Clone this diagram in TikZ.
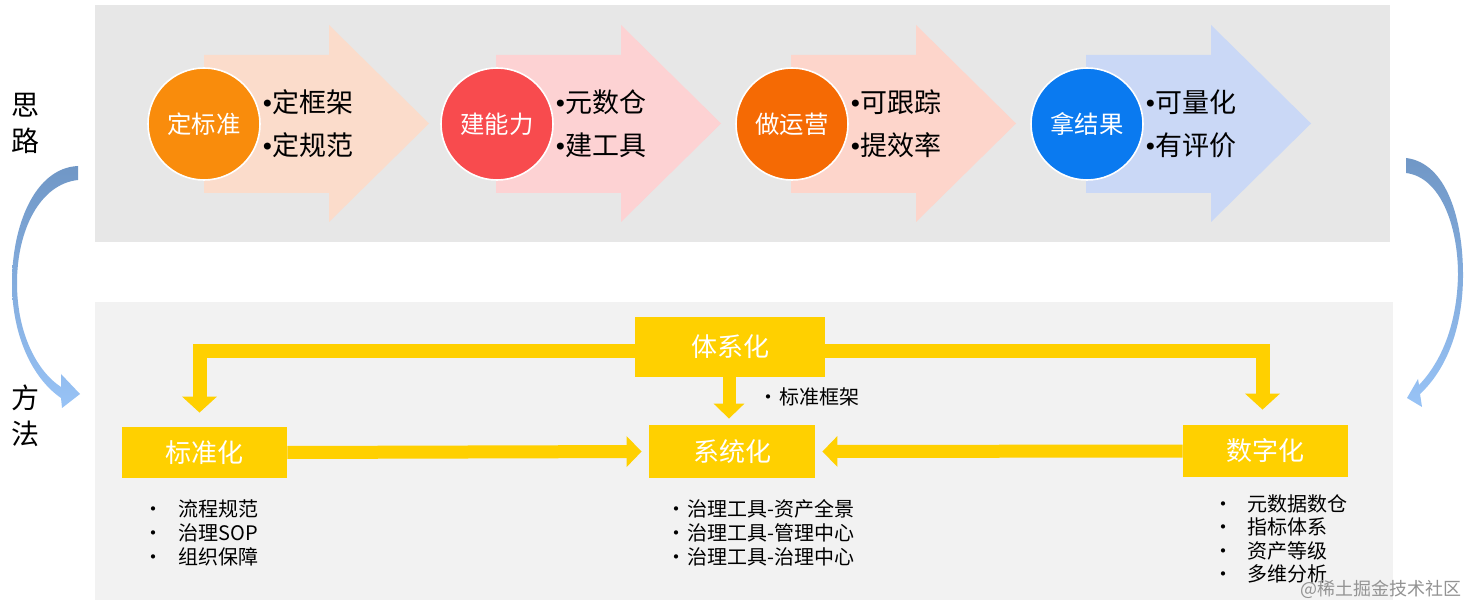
\documentclass[tikz,border=0pt]{standalone}
\usepackage{fontspec}
\setmainfont{Noto Sans CJK SC}
\newfontfamily\dejavu{DejaVu Sans}
\usetikzlibrary{arrows.meta,calc}
\definecolor{toppanel}{HTML}{E7E7E7}
\definecolor{botpanel}{HTML}{F2F2F2}
\definecolor{arrA}{HTML}{FBDCCB}
\definecolor{arrB}{HTML}{FDD2D3}
\definecolor{arrC}{HTML}{FDD5CB}
\definecolor{arrD}{HTML}{CAD8F6}
\definecolor{cirA}{HTML}{F98C0C}
\definecolor{cirB}{HTML}{F84B4E}
\definecolor{cirC}{HTML}{F56A04}
\definecolor{cirD}{HTML}{0A7AF0}
\definecolor{yel}{HTML}{FFD000}
\definecolor{blueTop}{HTML}{7097C6}
\definecolor{blueMid}{HTML}{C8DCF1}
\definecolor{blueBot}{HTML}{98C3F6}
\newcommand{\bigbul}{\makebox[5pt][c]{\dejavu\fontsize{12}{14}\selectfont •}}
\begin{document}
\begin{tikzpicture}[x=0.5pt,y=-0.5pt,
  circ/.style={circle, minimum size=56pt, inner sep=0pt, draw=white, line width=0.8pt, text=white, font=\fontsize{12.2}{14}\selectfont},
  bul/.style={anchor=west, inner sep=0pt, text=black, font=\fontsize{13.5}{16}\selectfont},
  ybox/.style={fill=yel, text=white, inner sep=0pt, font=\fontsize{13}{15}\selectfont},
  yarr/.style={draw=yel, line width=7pt, -{Triangle[length=8pt,width=17pt]}},
  yarrs/.style={draw=yel, line width=6.5pt, -{Triangle[length=7.5pt,width=15pt]}},
  li/.style={anchor=west, inner sep=0pt, text=black, font=\fontsize{10}{12}\selectfont},
  side/.style={inner sep=0pt, align=center, text=black, font=\fontsize{14}{18}\selectfont},
  wm/.style={anchor=west, inner sep=0pt, text=gray!85, font=\fontsize{9}{11}\selectfont}
]
\useasboundingbox (0,0) rectangle (1470,608);
\fill[white] (0,0) rectangle (1470,608);
% panels
\fill[toppanel] (95,5) rectangle (1390,242);
\fill[botpanel] (95,302) rectangle (1393,600);

% top block arrows
\foreach \x/\c in {204/arrA,496/arrB,791/arrC,1086/arrD}
  \fill[\c] (\x,55) -- (\x+125,55) -- (\x+125,25) -- (\x+225,123.5) -- (\x+125,222) -- (\x+125,193) -- (\x,193) -- cycle;

% circles
\node[circ, fill=cirA] (s1) at (204,124) {定标准};
\node[circ, fill=cirB] (s2) at (497,124) {建能力};
\node[circ, fill=cirC] (s3) at (792,124) {做运营};
\node[circ, fill=cirD] (s4) at (1087,124) {拿结果};

\node[bul] (s1a) at (262,102) {\bigbul{}定框架};
\node[bul] (s1b) at (262,145) {\bigbul{}定规范};
\node[bul] (s2a) at (555,102) {\bigbul{}元数仓};
\node[bul] (s2b) at (555,145) {\bigbul{}建工具};
\node[bul] (s3a) at (850,102) {\bigbul{}可跟踪};
\node[bul] (s3b) at (850,145) {\bigbul{}提效率};
\node[bul] (s4a) at (1145,102) {\bigbul{}可量化};
\node[bul] (s4b) at (1145,145) {\bigbul{}有评价};

% side labels
\node[side] (silu) at (25,123) {思\\路};
\node[side] (fangfa) at (25,416) {方\\法};

% curved arrows
\shade[top color=blueTop, middle color=blueMid, bottom color=blueBot]
  (78,166) .. controls (35,168) and (12,225) .. (12,283)
  .. controls (12,335) and (32,378) .. (61,398)
  -- (62,408) -- (80,394) -- (61,374) -- (61,387)
  .. controls (38,372) and (17,335) .. (17,283)
  .. controls (17,230) and (40,184) .. (78,180) -- cycle;
\shade[top color=blueTop, middle color=blueMid, bottom color=blueBot]
  (1406,158) .. controls (1447,163) and (1463,220) .. (1463,275)
  .. controls (1463,325) and (1448,368) .. (1420,394)
  -- (1422,407) -- (1407,398) -- (1418,379) -- (1419,385)
  .. controls (1441,362) and (1457,325) .. (1458,275)
  .. controls (1458,225) and (1440,177) .. (1406,173) -- cycle;

% bottom boxes
\node[ybox, minimum width=95pt, minimum height=30pt] (txh) at (730,347) {体系化};
\node[ybox, minimum width=82.5pt, minimum height=25.5pt] (bzh) at (204.5,452.5) {标准化};
\node[ybox, minimum width=83pt, minimum height=26.5pt] (xth) at (732,451.5) {系统化};
\node[ybox, minimum width=82.5pt, minimum height=26pt] (szh) at (1265.5,451) {数字化};

% yellow connectors
\draw[yarr, shorten >=7pt] ([yshift=-2pt]txh.west) -| ([xshift=-2.5pt]bzh.north);
\draw[yarr, shorten >=7.5pt] ([yshift=-2pt]txh.east) -| ([xshift=-1.5pt]szh.north);
\draw[yarrs, shorten >=3pt] ([xshift=-0.5pt]txh.south) -- ([xshift=-1.5pt]xth.north);
\draw[yarrs, shorten >=3.5pt] (bzh.east) -- (xth.west);
\draw[yarrs, shorten >=3.5pt] (szh.west) -- (xth.east);

% lists
\node[li] (bzkj) at (758,397) {\makebox[10.5pt][l]{•}标准框架};
\foreach \t [count=\i] in {流程规范,治理SOP,组织保障}
  \node[li] (la\i) at (143,485+24*\i) {\makebox[17.5pt][l]{•}\t};
\foreach \t [count=\i] in {治理工具-资产全景,治理工具-管理中心,治理工具-治理中心}
  \node[li] (lb\i) at (666,485+24*\i) {\makebox[10.5pt][l]{•}\t};
\foreach \t [count=\i] in {元数据数仓,指标体系,资产等级,多维分析}
  \node[li] (lc\i) at (1213,480.7+23.3*\i) {\makebox[17pt][l]{•}\t};

\node[wm] (wmark) at (1300,589) {@稀土掘金技术社区};
\end{tikzpicture}
\end{document}
